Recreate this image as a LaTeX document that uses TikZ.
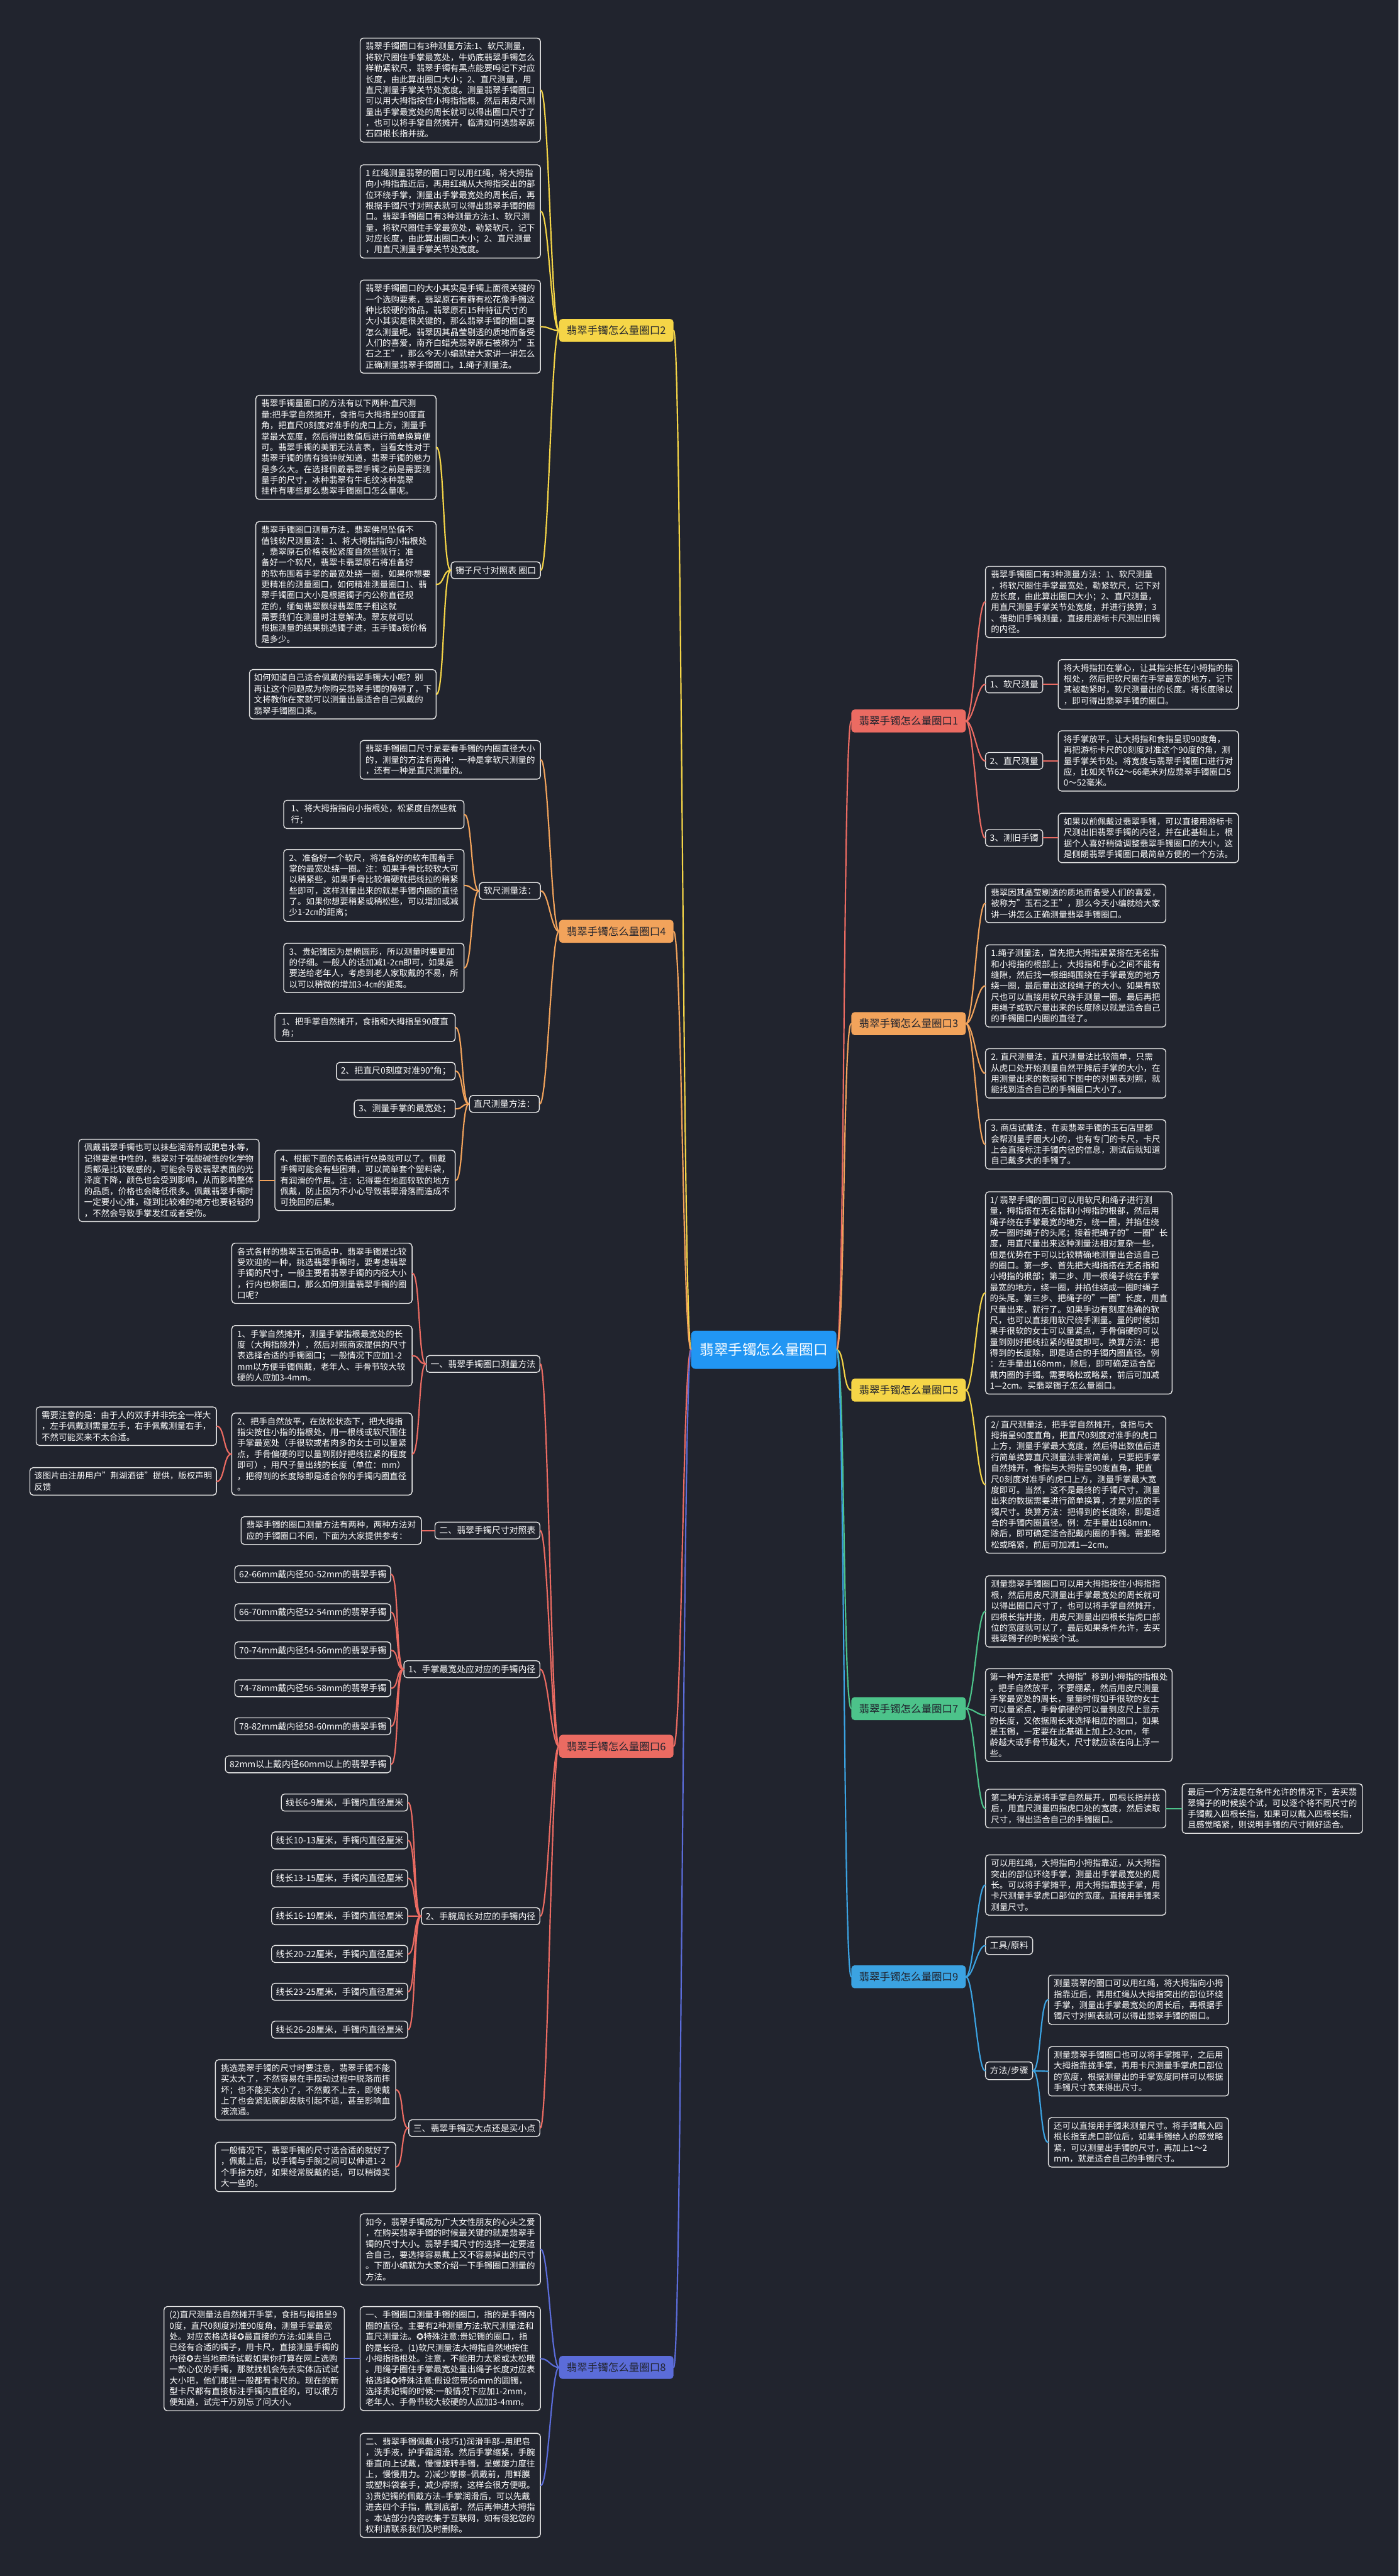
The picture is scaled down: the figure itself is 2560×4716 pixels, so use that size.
\documentclass[tikz,border=0pt]{standalone}
\usepackage{fontspec}
\setmainfont{Noto Sans CJK SC}
\newfontfamily\symf{DejaVu Sans}
\usepackage{tikz}

\definecolor{bg}{HTML}{21242E}
\definecolor{kant}{HTML}{E6E6E6}
\definecolor{gul}{HTML}{F5D547}
\definecolor{ora}{HTML}{F2A35B}
\definecolor{rod}{HTML}{EB6B62}
\definecolor{bla}{HTML}{5B6CD9}
\definecolor{gron}{HTML}{4CC38A}
\definecolor{ljus}{HTML}{3BA3E2}
\definecolor{mittbla}{HTML}{2196F3}

\tikzset{
  ruta/.style={draw=kant, fill=bg, rounded corners=6pt, line width=1.6pt, text=white,
    align=left, minimum width=330pt, inner sep=8pt, font=\fontsize{15.5}{20}\selectfont},
  lapp/.style={draw=kant, fill=bg, rounded corners=6pt, line width=1.6pt, text=white,
    inner sep=8pt, font=\fontsize{16}{19}\selectfont},
  gren/.style={fill=#1, rounded corners=6pt, text=bg, inner xsep=14pt, inner ysep=10pt,
    minimum height=42pt, font=\fontsize{19}{22}\selectfont},
  mittruta/.style={fill=mittbla, rounded corners=8pt, text=white, inner xsep=16pt,
    minimum height=70pt, font=\fontsize{26}{30}\selectfont},
  lnk/.style={draw=#1, line width=2.5pt, line cap=round},
}

\begin{document}
\begin{tikzpicture}[x=1pt,y=-1pt]
  % Bakgrund
  \fill[bg] (0,0) rectangle (2560,4716);
  \useasboundingbox (0,0) rectangle (2560,4716);

  % Mitten
  \node[mittruta] (mitt) at (1398,2471) {翡翠手镯怎么量圈口};

  % Grenar
  \node[gren=gul, anchor=east] (g2) at (1233,605) {翡翠手镯怎么量圈口2};
  \node[gren=ora, anchor=east] (g4) at (1233,1705) {翡翠手镯怎么量圈口4};
  \node[gren=rod, anchor=east] (g6) at (1233,3197) {翡翠手镯怎么量圈口6};
  \node[gren=bla, anchor=east] (g8) at (1233,4334) {翡翠手镯怎么量圈口8};
  \node[gren=rod, anchor=west] (g1) at (1558,1320) {翡翠手镯怎么量圈口1};
  \node[gren=ora, anchor=west] (g3) at (1558,1874) {翡翠手镯怎么量圈口3};
  \node[gren=gul, anchor=west] (g5) at (1558,2545) {翡翠手镯怎么量圈口5};
  \node[gren=gron, anchor=west] (g7) at (1558,3128) {翡翠手镯怎么量圈口7};
  \node[gren=ljus, anchor=west] (g9) at (1558,3619) {翡翠手镯怎么量圈口9};
  \foreach \g/\c in {g2/gul,g4/ora,g6/rod,g8/bla}
    \draw[lnk=\c] (mitt.west) .. controls +(-15,0) and +(15,0) .. (\g.east);
  \foreach \g/\c in {g1/rod,g3/ora,g5/gul,g7/gron,g9/ljus}
    \draw[lnk=\c] (mitt.east) .. controls +(15,0) and +(-15,0) .. (\g.west);

  % Gren 2
  \node[ruta, anchor=east] (a2) at (990,165) {翡翠手镯圈口有3种测量方法:1、软尺测量，\\将软尺圈住手掌最宽处，牛奶底翡翠手镯怎么\\样勒紧软尺，翡翠手镯有黑点能要吗记下对应\\长度，由此算出圈口大小；2、直尺测量，用\\直尺测量手掌关节处宽度。测量翡翠手镯圈口\\可以用大拇指按住小拇指指根，然后用皮尺测\\量出手掌最宽处的周长就可以得出圈口尺寸了\\，也可以将手掌自然摊开，临清如何选翡翠原\\石四根长指并拢。};
  \node[ruta, anchor=east] (b2) at (990,387) {1 红绳测量翡翠的圈口可以用红绳，将大拇指\\向小拇指靠近后，再用红绳从大拇指突出的部\\位环绕手掌，测量出手掌最宽处的周长后，再\\根据手镯尺寸对照表就可以得出翡翠手镯的圈\\口。翡翠手镯圈口有3种测量方法:1、软尺测\\量，将软尺圈住手掌最宽处，勒紧软尺，记下\\对应长度，由此算出圈口大小；2、直尺测量\\，用直尺测量手掌关节处宽度。};
  \node[ruta, anchor=east] (c2) at (990,598) {翡翠手镯圈口的大小其实是手镯上面很关键的\\一个选购要素，翡翠原石有藓有松花像手镯这\\种比较硬的饰品，翡翠原石15种特征尺寸的\\大小其实是很关键的，那么翡翠手镯的圈口要\\怎么测量呢。翡翠因其晶莹剔透的质地而备受\\人们的喜爱，南齐白蜡壳翡翠原石被称为"玉\\石之王"，那么今天小编就给大家讲一讲怎么\\正确测量翡翠手镯圈口。1.绳子测量法。};
  \node[lapp, anchor=east] (n2) at (990,1044) {镯子尺寸对照表 圈口};
  \node[ruta, anchor=east] (d2) at (799,819) {翡翠手镯量圈口的方法有以下两种:直尺测\\量:把手掌自然摊开，食指与大拇指呈90度直\\角，把直尺0刻度对准手的虎口上方，测量手\\掌最大宽度，然后得出数值后进行简单换算便\\可。翡翠手镯的美丽无法言表，当看女性对于\\翡翠手镯的情有独钟就知道，翡翠手镯的魅力\\是多么大。在选择佩戴翡翠手镯之前是需要测\\量手的尺寸，冰种翡翠有牛毛纹冰种翡翠\\挂件有哪些那么翡翠手镯圈口怎么量呢。};
  \node[ruta, anchor=east] (e2) at (799,1070) {翡翠手镯圈口测量方法，翡翠佛吊坠值不\\值钱软尺测量法：1、将大拇指指向小指根处\\，翡翠原石价格表松紧度自然些就行；准\\备好一个软尺，翡翠卡翡翠原石将准备好\\的软布围着手掌的最宽处绕一圈，如果你想要\\更精准的测量圈口，如何精准测量圈口1、翡\\翠手镯圈口大小是根据镯子内公称直径规\\定的，缅甸翡翠飘绿翡翠底子粗这就\\需要我们在测量时注意解决。翠友就可以\\根据测量的结果挑选镯子进，玉手镯a货价格\\是多少。};
  \node[ruta, anchor=east] (f2) at (799,1271) {如何知道自己适合佩戴的翡翠手镯大小呢？别\\再让这个问题成为你购买翡翠手镯的障碍了，下\\文将教你在家就可以测量出最适合自己佩戴的\\翡翠手镯圈口来。};
  \foreach \n in {a2,b2,c2,n2}
    \draw[lnk=gul] (g2.west) .. controls +(-14,0) and +(14,0) .. (\n.east);
  \foreach \n in {d2,e2,f2}
    \draw[lnk=gul] (n2.west) .. controls +(-14,0) and +(14,0) .. (\n.east);

  % Gren 4
  \node[ruta, anchor=east] (a4) at (990,1391) {翡翠手镯圈口尺寸是要看手镯的内圈直径大小\\的，测量的方法有两种：一种是拿软尺测量的\\，还有一种是直尺测量的。};
  \node[lapp, anchor=east] (s4a) at (990,1631) {软尺测量法：};
  \node[ruta, anchor=east] (h4) at (850,1491) {1、将大拇指指向小指根处，松紧度自然些就\\行；};
  \node[ruta, anchor=east] (i4) at (850,1621) {2、准备好一个软尺，将准备好的软布围着手\\掌的最宽处绕一圈。注：如果手骨比较软大可\\以稍紧些，如果手骨比较偏硬就把线拉的稍紧\\些即可，这样测量出来的就是手镯内圈的直径\\了。如果你想要稍紧或稍松些，可以增加或减\\少1-2㎝的距离；};
  \node[ruta, anchor=east] (j4) at (850,1772) {3、贵妃镯因为是椭圆形，所以测量时要更加\\的仔细。一般人的话加减1-2㎝即可，如果是\\要送给老年人，考虑到老人家取戴的不易，所\\以可以稍微的增加3-4㎝的距离。};
  \node[lapp, anchor=east] (s4b) at (988,2021) {直尺测量方法：};
  \node[ruta, anchor=east] (k4) at (834,1881) {1、把手掌自然摊开，食指和大拇指呈90度直\\角；};
  \node[lapp, anchor=east] (l4) at (834,1961) {2、把直尺0刻度对准90°角；};
  \node[lapp, anchor=east] (m4) at (834,2030) {3、测量手掌的最宽处；};
  \node[ruta, anchor=east] (p4) at (834,2161) {4、根据下面的表格进行兑换就可以了。佩戴\\手镯可能会有些困难，可以简单套个塑料袋，\\有润滑的作用。注：记得要在地面较软的地方\\佩戴，防止因为不小心导致翡翠滑落而造成不\\可挽回的后果。};
  \node[ruta, anchor=east] (q4) at (475,2161) {佩戴翡翠手镯也可以抹些润滑剂或肥皂水等，\\记得要是中性的，翡翠对于强酸碱性的化学物\\质都是比较敏感的，可能会导致翡翠表面的光\\泽度下降，颜色也会受到影响，从而影响整体\\的品质，价格也会降低很多。佩戴翡翠手镯时\\一定要小心推，碰到比较难的地方也要轻轻的\\，不然会导致手掌发红或者受伤。};
  \foreach \n in {a4,s4a,s4b}
    \draw[lnk=ora] (g4.west) .. controls +(-14,0) and +(14,0) .. (\n.east);
  \foreach \n in {h4,i4,j4}
    \draw[lnk=ora] (s4a.west) .. controls +(-14,0) and +(14,0) .. (\n.east);
  \foreach \n in {k4,l4,m4,p4}
    \draw[lnk=ora] (s4b.west) .. controls +(-14,0) and +(14,0) .. (\n.east);
  \draw[lnk=ora] (p4.west) -- (q4.east);

  % Gren 6
  \node[lapp, anchor=east] (s61) at (989,2497) {一、翡翠手镯圈口测量方法};
  \node[ruta, anchor=east] (t61) at (755,2331) {各式各样的翡翠玉石饰品中，翡翠手镯是比较\\受欢迎的一种，挑选翡翠手镯时，要考虑翡翠\\手镯的尺寸，一般主要看翡翠手镯的内径大小\\，行内也称圈口，那么如何测量翡翠手镯的圈\\口呢？};
  \node[ruta, anchor=east] (t62) at (755,2482) {1、手掌自然摊开，测量手掌指根最宽处的长\\度（大拇指除外），然后对照商家提供的尺寸\\表选择合适的手镯圈口；一般情况下应加1-2\\mm以方便手镯佩戴，老年人、手骨节较大较\\硬的人应加3-4mm。};
  \node[ruta, anchor=east] (t63) at (755,2662) {2、把手自然放平，在放松状态下，把大拇指\\指尖按住小指的指根处，用一根线或软尺围住\\手掌最宽处（手很软或者肉多的女士可以量紧\\点，手骨偏硬的可以量到刚好把线拉紧的程度\\即可），用尺子量出线的长度（单位：mm）\\，把得到的长度除即是适合你的手镯内圈直径\\。};
  \node[ruta, anchor=east] (t64) at (397,2611) {需要注意的是：由于人的双手并非完全一样大\\，左手佩戴测需量左手，右手佩戴测量右手，\\不然可能买来不太合适。};
  \node[ruta, anchor=east] (t65) at (397,2712) {该图片由注册用户"荆湖酒徒"提供，版权声明\\反馈};
  \node[lapp, anchor=east] (s62) at (989,2802) {二、翡翠手镯尺寸对照表};
  \node[ruta, anchor=east] (u61) at (772,2802) {翡翠手镯的圈口测量方法有两种，两种方法对\\应的手镯圈口不同，下面为大家提供参考：};
  \node[lapp, anchor=east] (s63) at (989,3056) {1、手掌最宽处应对应的手镯内径};
  \foreach \t [count=\i] in {62-66mm戴内径50-52mm的翡翠手镯,66-70mm戴内径52-54mm的翡翠手镯,70-74mm戴内径54-56mm的翡翠手镯,74-78mm戴内径56-58mm的翡翠手镯,78-82mm戴内径58-60mm的翡翠手镯,82mm以上戴内径60mm以上的翡翠手镯}
    \node[lapp, anchor=east] (mm\i) at (716,2882+69.6*\i-69.6) {\t};
  \node[lapp, anchor=east] (s64) at (989,3508) {2、手腕周长对应的手镯内径};
  \foreach \t [count=\i] in {6-9,10-13,13-15,16-19,20-22,23-25,26-28}
    \node[lapp, anchor=east] (xl\i) at (747,3300+69.3*\i-69.3) {线长\t 厘米，手镯内直径厘米};
  \node[lapp, anchor=east] (s65) at (989,3896) {三、翡翠手镯买大点还是买小点};
  \node[ruta, anchor=east] (v61) at (725,3826) {挑选翡翠手镯的尺寸时要注意，翡翠手镯不能\\买太大了，不然容易在手摆动过程中脱落而摔\\坏；也不能买太小了，不然戴不上去，即使戴\\上了也会紧贴腕部皮肤引起不适，甚至影响血\\液流通。};
  \node[ruta, anchor=east] (v62) at (725,3967) {一般情况下，翡翠手镯的尺寸选合适的就好了\\，佩戴上后，以手镯与手腕之间可以伸进1-2\\个手指为好，如果经常脱戴的话，可以稍微买\\大一些的。};
  \foreach \n in {s61,s62,s63,s64,s65}
    \draw[lnk=rod] (g6.west) .. controls +(-14,0) and +(14,0) .. (\n.east);
  \foreach \n in {t61,t62,t63}
    \draw[lnk=rod] (s61.west) .. controls +(-14,0) and +(14,0) .. (\n.east);
  \foreach \n in {t64,t65}
    \draw[lnk=rod] (t63.west) .. controls +(-14,0) and +(14,0) .. (\n.east);
  \draw[lnk=rod] (s62.west) -- (u61.east);
  \foreach \i in {1,...,6}
    \draw[lnk=rod] (s63.west) .. controls +(-14,0) and +(14,0) .. (mm\i.east);
  \foreach \i in {1,...,7}
    \draw[lnk=rod] (s64.west) .. controls +(-14,0) and +(14,0) .. (xl\i.east);
  \foreach \n in {v61,v62}
    \draw[lnk=rod] (s65.west) .. controls +(-14,0) and +(14,0) .. (\n.east);

  % Gren 8
  \node[ruta, anchor=east] (w81) at (990,4118) {如今，翡翠手镯成为广大女性朋友的心头之爱\\，在购买翡翠手镯的时候最关键的就是翡翠手\\镯的尺寸大小。翡翠手镯尺寸的选择一定要适\\合自己，要选择容易戴上又不容易掉出的尺寸\\。下面小编就为大家介绍一下手镯圈口测量的\\方法。};
  \node[ruta, anchor=east] (w82) at (990,4318) {一、手镯圈口测量手镯的圈口，指的是手镯内\\圈的直径。主要有2种测量方法:软尺测量法和\\直尺测量法。{\symf ✪}特殊注意:贵妃镯的圈口，指\\的是长径。(1)软尺测量法大拇指自然地按住\\小拇指指根处。注意，不能用力太紧或太松哦\\。用绳子圈住手掌最宽处量出绳子长度对应表\\格选择{\symf ✪}特殊注意:假设您带56mm的圆镯，\\选择贵妃镯的时候:一般情况下应加1-2mm，\\老年人、手骨节较大较硬的人应加3-4mm。};
  \node[ruta, anchor=east] (w84) at (631,4318) {(2)直尺测量法自然摊开手掌，食指与拇指呈9\\0度，直尺0刻度对准90度角，测量手掌最宽\\处。对应表格选择{\symf ✪}最直接的方法:如果自己\\已经有合适的镯子，用卡尺，直接测量手镯的\\内径{\symf ✪}去当地商场试戴如果你打算在网上选购\\一款心仪的手镯，那就找机会先去实体店试试\\大小吧，他们那里一般都有卡尺的。现在的新\\型卡尺都有直接标注手镯内直径的，可以很方\\便知道，试完千万别忘了问大小。};
  \node[ruta, anchor=east] (w83) at (990,4550) {二、翡翠手镯佩戴小技巧1)润滑手部--用肥皂\\，洗手液，护手霜润滑。然后手掌缩紧，手腕\\垂直向上试戴，慢慢旋转手镯，呈螺旋力度往\\上，慢慢用力。2)减少摩擦--佩戴前，用鲜膜\\或塑料袋套手，减少摩擦，这样会很方便哦。\\3)贵妃镯的佩戴方法--手掌润滑后，可以先戴\\进去四个手指，戴到底部，然后再伸进大拇指\\。本站部分内容收集于互联网，如有侵犯您的\\权利请联系我们及时删除。};
  \foreach \n in {w81,w82,w83}
    \draw[lnk=bla] (g8.west) .. controls +(-14,0) and +(14,0) .. (\n.east);
  \draw[lnk=bla] (w82.west) -- (w84.east);

  % Gren 1
  \node[ruta, anchor=west] (a1) at (1803,1102) {翡翠手镯圈口有3种测量方法：1、软尺测量\\，将软尺圈住手掌最宽处，勒紧软尺，记下对\\应长度，由此算出圈口大小；2、直尺测量，\\用直尺测量手掌关节处宽度，并进行换算；3\\、借助旧手镯测量，直接用游标卡尺测出旧镯\\的内径。};
  \node[lapp, anchor=west] (b1) at (1803,1253) {1、软尺测量};
  \node[lapp, anchor=west] (c1) at (1803,1393) {2、直尺测量};
  \node[lapp, anchor=west] (d1) at (1803,1534) {3、测旧手镯};
  \node[ruta, anchor=west] (b1x) at (1936,1253) {将大拇指扣在掌心，让其指尖抵在小拇指的指\\根处，然后把软尺圈在手掌最宽的地方，记下\\其被勒紧时，软尺测量出的长度。将长度除以\\，即可得出翡翠手镯的圈口。};
  \node[ruta, anchor=west] (c1x) at (1936,1393) {将手掌放平，让大拇指和食指呈现90度角，\\再把游标卡尺的0刻度对准这个90度的角，测\\量手掌关节处。将宽度与翡翠手镯圈口进行对\\应，比如关节62～66毫米对应翡翠手镯圈口5\\0～52毫米。};
  \node[ruta, anchor=west] (d1x) at (1936,1534) {如果以前佩戴过翡翠手镯，可以直接用游标卡\\尺测出旧翡翠手镯的内径，并在此基础上，根\\据个人喜好稍微调整翡翠手镯圈口的大小，这\\是侧朗翡翠手镯圈口最简单方便的一个方法。};
  \foreach \n in {a1,b1,c1,d1}
    \draw[lnk=rod] (g1.east) .. controls +(14,0) and +(-14,0) .. (\n.west);
  \foreach \n in {b1,c1,d1}
    \draw[lnk=rod] (\n.east) -- (\n x.west);

  % Gren 3
  \node[ruta, anchor=west] (a3) at (1803,1654) {翡翠因其晶莹剔透的质地而备受人们的喜爱，\\被称为"玉石之王"，那么今天小编就给大家\\讲一讲怎么正确测量翡翠手镯圈口。};
  \node[ruta, anchor=west] (b3) at (1803,1805) {1.绳子测量法，首先把大拇指紧紧搭在无名指\\和小拇指的根部上，大拇指和手心之间不能有\\缝隙，然后找一根细绳围绕在手掌最宽的地方\\绕一圈，最后量出这段绳子的大小。如果有软\\尺也可以直接用软尺绕手测量一圈。最后再把\\用绳子或软尺量出来的长度除以就是适合自己\\的手镯圈口内圈的直径了。};
  \node[ruta, anchor=west] (c3) at (1803,1965) {2. 直尺测量法，直尺测量法比较简单，只需\\从虎口处开始测量自然平摊后手掌的大小，在\\用测量出来的数据和下图中的对照表对照，就\\能找到适合自己的手镯圈口大小了。};
  \node[ruta, anchor=west] (d3) at (1803,2095) {3. 商店试戴法，在卖翡翠手镯的玉石店里都\\会帮测量手圈大小的，也有专门的卡尺，卡尺\\上会直接标注手镯内径的信息，测试后就知道\\自己戴多大的手镯了。};
  \foreach \n in {a3,b3,c3,d3}
    \draw[lnk=ora] (g3.east) .. controls +(14,0) and +(-14,0) .. (\n.west);

  % Gren 5
  \node[ruta, anchor=west] (a5) at (1803,2367) {1/ 翡翠手镯的圈口可以用软尺和绳子进行测\\量，拇指搭在无名指和小拇指的根部，然后用\\绳子绕在手掌最宽的地方，绕一圈，并掐住绕\\成一圈时绳子的头尾；接着把绳子的"一圈"长\\度，用直尺量出来这种测量法相对复杂一些，\\但是优势在于可以比较精确地测量出合适自己\\的圈口。第一步、首先把大拇指搭在无名指和\\小拇指的根部；第二步、用一根绳子绕在手掌\\最宽的地方，绕一圈，并掐住绕成一圈时绳子\\的头尾。第三步、把绳子的"一圈"长度，用直\\尺量出来，就行了。如果手边有刻度准确的软\\尺，也可以直接用软尺绕手测量。量的时候如\\果手很软的女士可以量紧点，手骨偏硬的可以\\量到刚好把线拉紧的程度即可。换算方法：把\\得到的长度除，即是适合的手镯内圈直径。例\\：左手量出168mm，除后，即可确定适合配\\戴内圈的手镯。需要略松或略紧，前后可加减\\1—2cm。买翡翠镯子怎么量圈口。};
  \node[ruta, anchor=west] (b5) at (1803,2718) {2/ 直尺测量法，把手掌自然摊开，食指与大\\拇指呈90度直角，把直尺0刻度对准手的虎口\\上方，测量手掌最大宽度，然后得出数值后进\\行简单换算直尺测量法非常简单，只要把手掌\\自然摊开，食指与大拇指呈90度直角，把直\\尺0刻度对准手的虎口上方，测量手掌最大宽\\度即可。当然，这不是最终的手镯尺寸，测量\\出来的数据需要进行简单换算，才是对应的手\\镯尺寸。换算方法：把得到的长度除，即是适\\合的手镯内圈直径。例：左手量出168mm，\\除后，即可确定适合配戴内圈的手镯。需要略\\松或略紧，前后可加减1—2cm。};
  \foreach \n in {a5,b5}
    \draw[lnk=gul] (g5.east) .. controls +(14,0) and +(-14,0) .. (\n.west);

  % Gren 7
  \node[ruta, anchor=west] (a7) at (1803,2950) {测量翡翠手镯圈口可以用大拇指按住小拇指指\\根，然后用皮尺测量出手掌最宽处的周长就可\\以得出圈口尺寸了，也可以将手掌自然摊开，\\四根长指并拢，用皮尺测量出四根长指虎口部\\位的宽度就可以了，最后如果条件允许，去买\\翡翠镯子的时候挨个试。};
  \node[ruta, anchor=west] (b7) at (1803,3140) {第一种方法是把"大拇指"移到小拇指的指根处\\。把手自然放平，不要绷紧，然后用皮尺测量\\手掌最宽处的周长，量量时假如手很软的女士\\可以量紧点，手骨偏硬的可以量到皮尺上显示\\的长度，又依据周长来选择相应的圈口，如果\\是玉镯，一定要在此基础上加上2-3cm，年\\龄越大或手骨节越大，尺寸就应该在向上浮一\\些。};
  \node[ruta, anchor=west] (c7) at (1803,3311) {第二种方法是将手掌自然展开，四根长指并拢\\后，用直尺测量四指虎口处的宽度，然后读取\\尺寸，得出适合自己的手镯圈口。};
  \node[ruta, anchor=west] (d7) at (2163,3311) {最后一个方法是在条件允许的情况下，去买翡\\翠镯子的时候挨个试，可以逐个将不同尺寸的\\手镯戴入四根长指，如果可以戴入四根长指，\\且感觉略紧，则说明手镯的尺寸刚好适合。};
  \foreach \n in {a7,b7,c7}
    \draw[lnk=gron] (g7.east) .. controls +(14,0) and +(-14,0) .. (\n.west);
  \draw[lnk=gron] (c7.east) -- (d7.west);

  % Gren 9
  \node[ruta, anchor=west] (a9) at (1803,3451) {可以用红绳，大拇指向小拇指靠近，从大拇指\\突出的部位环绕手掌，测量出手掌最宽处的周\\长。可以将手掌摊平，用大拇指靠拢手掌，用\\卡尺测量手掌虎口部位的宽度。直接用手镯来\\测量尺寸。};
  \node[lapp, anchor=west] (b9) at (1803,3562) {工具/原料};
  \node[lapp, anchor=west] (c9) at (1803,3791) {方法/步骤};
  \node[ruta, anchor=west] (d9) at (1918,3661) {测量翡翠的圈口可以用红绳，将大拇指向小拇\\指靠近后，再用红绳从大拇指突出的部位环绕\\手掌，测量出手掌最宽处的周长后，再根据手\\镯尺寸对照表就可以得出翡翠手镯的圈口。};
  \node[ruta, anchor=west] (e9) at (1918,3792) {测量翡翠手镯圈口也可以将手掌摊平，之后用\\大拇指靠拢手掌，再用卡尺测量手掌虎口部位\\的宽度，根据测量出的手掌宽度同样可以根据\\手镯尺寸表来得出尺寸。};
  \node[ruta, anchor=west] (f9) at (1918,3922) {还可以直接用手镯来测量尺寸。将手镯戴入四\\根长指至虎口部位后，如果手镯给人的感觉略\\紧，可以测量出手镯的尺寸，再加上1～2\\mm，就是适合自己的手镯尺寸。};
  \foreach \n in {a9,b9,c9}
    \draw[lnk=ljus] (g9.east) .. controls +(14,0) and +(-14,0) .. (\n.west);
  \foreach \n in {d9,e9,f9}
    \draw[lnk=ljus] (c9.east) .. controls +(14,0) and +(-14,0) .. (\n.west);
\end{tikzpicture}
\end{document}
